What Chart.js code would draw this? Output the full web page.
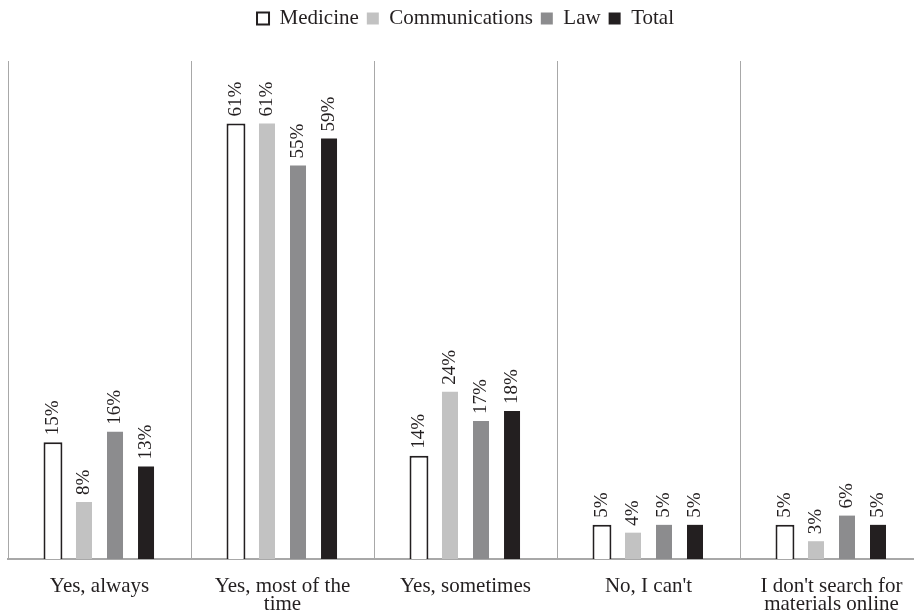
<!DOCTYPE html>
<html>
<head>
<meta charset="utf-8">
<script src="https://cdn.jsdelivr.net/npm/chart.js@4.4.1/dist/chart.umd.min.js"></script>
<style>
  html, body { margin: 0; padding: 0; background: #fff; overflow: hidden; }
  #wrap { position: absolute; left: 0; top: 0; width: 930px; height: 616px; }
</style>
</head>
<body>
<div id="wrap"><canvas id="chart"></canvas></div>
<script>
// categories and series (bar heights, labels as printed)
const categories = [['Yes, always'], ['Yes, most of the', 'time'], ['Yes, sometimes'], ["No, I can't"], ["I don't search for", 'materials online']];
const medicine = [16.4, 61.2, 14.5, 4.8, 4.8];
const communications = [8.0, 61.2, 23.5, 3.7, 2.5];
const law = [17.9, 55.3, 19.4, 4.8, 6.1];
const total = [13.0, 59.1, 20.8, 4.8, 4.8];
const medicineLabels = ['15%', '61%', '14%', '5%', '5%'];
const communicationsLabels = ['8%', '61%', '24%', '4%', '3%'];
const lawLabels = ['16%', '55%', '17%', '5%', '6%'];
const totalLabels = ['13%', '59%', '18%', '5%', '5%'];

const serif = '"Liberation Serif", "Times New Roman", serif';

// legend takes a fixed band at the top
const legendBand = {
    id: 'legendBand',
    beforeInit(chart) {
        const fit = chart.legend.fit;
        chart.legend.fit = function() {
            fit.call(this);
            this.height = 61;
        };
    }
};

// rotated value labels above each bar
const barLabels = {
    id: 'barLabels',
    afterDatasetsDraw(chart) {
        const ctx = chart.ctx;
        ctx.save();
        ctx.font = '19px ' + serif;
        ctx.fillStyle = '#231f20';
        ctx.textAlign = 'left';
        ctx.textBaseline = 'middle';
        chart.data.datasets.forEach((ds, i) => {
            chart.getDatasetMeta(i).data.forEach((bar, j) => {
                ctx.save();
                ctx.translate(bar.x, bar.y - 7);
                ctx.rotate(-Math.PI / 2);
                ctx.fillText(ds.valueLabels[j], 0, 0);
                ctx.restore();
            });
        });
        ctx.restore();
    }
};

new Chart(document.getElementById('chart'), {
    type: 'bar',
    data: {
        labels: categories,
        datasets: [{
            label: 'Medicine',
            data: medicine,
            valueLabels: medicineLabels,
            backgroundColor: '#ffffff',
            borderColor: '#231f20',
            borderWidth: 2,
            barPercentage: 0.61
        }, {
            label: 'Communications',
            data: communications,
            valueLabels: communicationsLabels,
            backgroundColor: '#c2c2c2',
            borderWidth: 0
        }, {
            label: 'Law',
            data: law,
            valueLabels: lawLabels,
            backgroundColor: '#8c8c8e',
            borderWidth: 0
        }, {
            label: 'Total',
            data: total,
            valueLabels: totalLabels,
            backgroundColor: '#231f20',
            borderWidth: 0
        }]
    },
    options: {
        responsive: true,
        maintainAspectRatio: false,
        animation: false,
        layout: { padding: { left: 8, right: 7, top: 0, bottom: 0 } },
        datasets: { bar: { categoryPercentage: 0.678, barPercentage: 0.516 } },
        plugins: {
            tooltip: { enabled: false },
            legend: {
                position: 'top',
                labels: {
                    boxWidth: 12,
                    boxHeight: 12,
                    padding: 8,
                    color: '#231f20',
                    font: { family: serif, size: 21 }
                }
            }
        },
        scales: {
            x: {
                grid: { color: '#a8a8a8', lineWidth: 1, drawTicks: false, tickLength: 0 },
                border: { color: '#a8a8a8', width: 2 },
                ticks: {
                    color: '#231f20',
                    padding: 18,
                    maxRotation: 0,
                    autoSkip: false,
                    font: { family: serif, size: 21, lineHeight: 0.88 }
                },
                afterFit(scale) { scale.height = 57; }
            },
            y: {
                display: false,
                min: 0,
                max: 70
            }
        }
    },
    plugins: [legendBand, barLabels]
});
</script>
</body>
</html>
